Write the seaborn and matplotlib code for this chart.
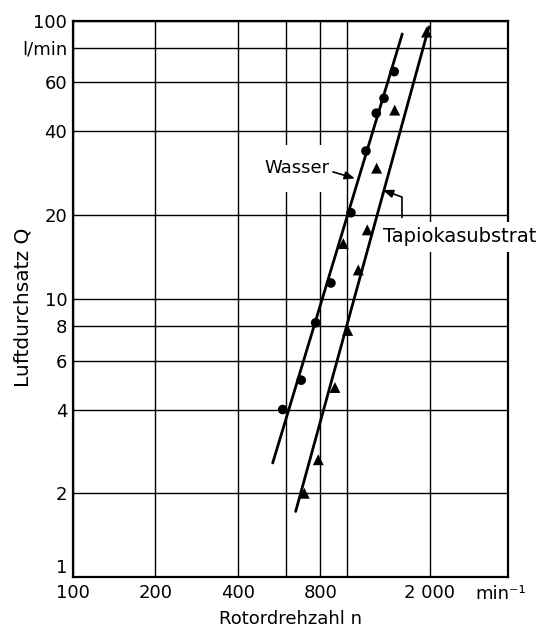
import matplotlib
matplotlib.use("Agg")
import matplotlib.pyplot as plt
import matplotlib.ticker as mticker
import seaborn as sns

# Measurements: rotor speed n (1/min) vs. air throughput Q (l/min)
wasser_n = [583, 681, 769, 874, 1034, 1173, 1279, 1365, 1487]
wasser_q = [4.0, 5.1, 8.2, 11.4, 20.4, 34.0, 46.5, 52.6, 65.6]

tapioka_n = [699, 786, 904, 970, 1006, 1100, 1186, 1283, 1493, 1952]
tapioka_q = [2.0, 2.64, 4.8, 15.8, 7.7, 12.7, 17.7, 29.5, 47.7, 91.0]

# Fitted straight lines (end points)
wasser_fit_n = [536, 1591]
wasser_fit_q = [2.57, 89.6]
tapioka_fit_n = [650, 1990]
tapioka_fit_q = [1.72, 95.0]

# Axis grid / tick definitions
x_ticks = [100, 200, 400, 600, 800, 1000, 2000]
x_tick_labels = ["100", "200", "400", "", "800", "", "2 000"]
x_unit = "min\u207b\u00b9"
y_ticks = [1, 2, 4, 6, 8, 10, 20, 40, 60, 80, 100]
y_tick_labels = ["1", "2", "4", "6", "8", "10", "20", "40", "60", "l/min", "100"]
x_range = (100, 3866)
y_range = (1, 100)

sns.set_theme(style="white")
plt.rcParams["font.family"] = ["DejaVu Sans"]
plt.rcParams["axes.edgecolor"] = "black"
plt.rcParams["axes.labelcolor"] = "black"
plt.rcParams["text.color"] = "black"
plt.rcParams["xtick.color"] = "black"
plt.rcParams["ytick.color"] = "black"

fig = plt.figure(figsize=(5.46, 6.33), dpi=100)
ax = fig.add_axes([0.1332, 0.0885, 0.7972, 0.8788])

ax.set_xscale("log")
ax.set_yscale("log")
ax.set_xlim(*x_range)
ax.set_ylim(*y_range)

ax.xaxis.set_major_locator(mticker.FixedLocator(x_ticks + [x_range[1]]))
ax.xaxis.set_major_formatter(mticker.FixedFormatter(x_tick_labels + [""]))
ax.yaxis.set_major_locator(mticker.FixedLocator(y_ticks))
ax.yaxis.set_major_formatter(mticker.FixedFormatter(y_tick_labels))
ax.xaxis.set_minor_locator(mticker.NullLocator())
ax.yaxis.set_minor_locator(mticker.NullLocator())
ax.tick_params(axis="both", length=0, labelsize=13)
ax.tick_params(axis="x", pad=5)
ax.tick_params(axis="y", pad=4)

# lowest y label sits just above the corner
ax.yaxis.get_major_ticks()[0].label1.set_verticalalignment("bottom")

# unit of the rotor speed, at the right end of the x axis
ax.text(0.984, -0.0145, x_unit, transform=ax.transAxes, ha="center", va="top",
        fontsize=13)

ax.grid(True, which="major", color="black", linewidth=1.0)
ax.set_axisbelow(True)
for sp in ax.spines.values():
    sp.set_linewidth(1.6)
    sp.set_color("black")

# Fit lines
sns.lineplot(x=wasser_fit_n, y=wasser_fit_q, color="black", linewidth=2.0,
             ax=ax, zorder=4)
sns.lineplot(x=tapioka_fit_n, y=tapioka_fit_q, color="black", linewidth=2.0,
             ax=ax, zorder=4)

# Measured points
sns.scatterplot(x=wasser_n, y=wasser_q, marker="o", color="black", s=48,
                edgecolor="none", ax=ax, zorder=5)
sns.scatterplot(x=tapioka_n, y=tapioka_q, marker="^", color="black", s=62,
                edgecolor="none", ax=ax, zorder=5)

# Curve labels on white boxes
ax.text(657, 29.5, "Wasser", ha="center", va="center", fontsize=13, zorder=3,
        bbox=dict(boxstyle="square,pad=0.8", fc="white", ec="none"))
ax.text(2582, 16.7, "Tapiokasubstrat", ha="center", va="center", fontsize=14,
        zorder=3, bbox=dict(boxstyle="square,pad=0.3", fc="white", ec="none"))

arrow = dict(arrowstyle="-|>,head_length=0.5,head_width=0.2", color="black",
             lw=1.2, shrinkA=0, shrinkB=0)
ax.annotate("", xy=(1069, 27.1), xytext=(889, 28.6), zorder=4,
            arrowprops=arrow)
ax.annotate("", xy=(1353, 24.6), xytext=(1587, 19.6), zorder=4,
            arrowprops=dict(arrow,
                            connectionstyle="angle,angleA=90,angleB=160,rad=0"))

ax.set_xlabel("Rotordrehzahl n", fontsize=13, labelpad=6)
ax.set_ylabel("Luftdurchsatz Q", fontsize=14.5)
ax.yaxis.set_label_coords(-0.0935, 0.485)

fig.savefig("out.png", dpi=100)
